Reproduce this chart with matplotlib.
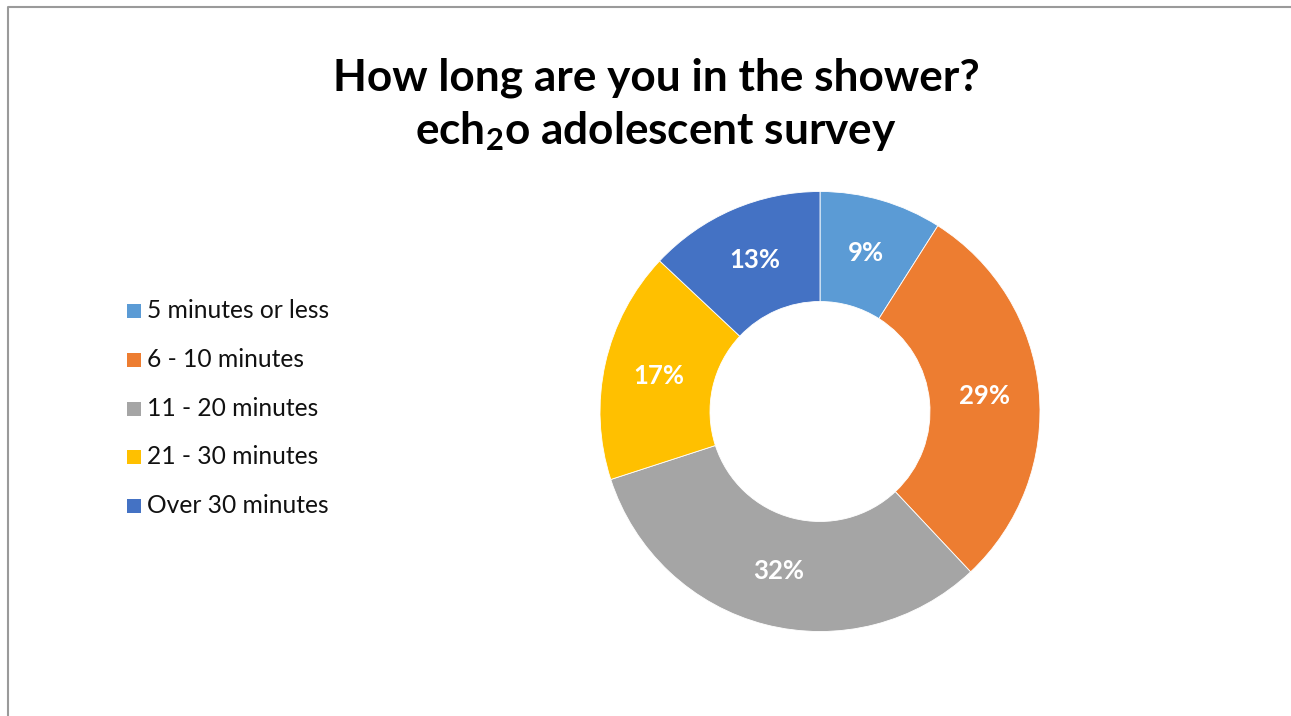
import matplotlib
matplotlib.use("Agg")
import matplotlib.pyplot as plt
from matplotlib.patches import Rectangle
from matplotlib.lines import Line2D

categories = ["5 minutes or less", "6 - 10 minutes", "11 - 20 minutes",
              "21 - 30 minutes", "Over 30 minutes"]
values = [9, 29, 32, 17, 13]
colors = ["#5B9BD5", "#ED7D31", "#A5A5A5", "#FFC000", "#4472C4"]
title_line1 = "How long are you in the shower?"
title_line2 = r"ech$_{\mathbf{2}}$o adolescent survey"

FONT = "Lato"
plt.rcParams['font.family'] = [FONT, 'DejaVu Sans']
plt.rcParams['mathtext.fontset'] = 'custom'
plt.rcParams['mathtext.rm'] = FONT + ':bold'
plt.rcParams['mathtext.bf'] = FONT + ':bold'
plt.rcParams['mathtext.it'] = FONT + ':bold'
plt.rcParams['mathtext.default'] = 'bf'

W, H = 1291, 716
fig = plt.figure(figsize=(W / 100, H / 100), dpi=100)
fig.patch.set_facecolor("white")

# donut axes: centre (820, 411.5) px, radius 220 px
cx, cy, r = 820, 411.5, 220
ax = fig.add_axes([(cx - r) / W, (H - cy - r) / H, 2 * r / W, 2 * r / H])
wedges, texts, autotexts = ax.pie(
    values, colors=colors, startangle=90, counterclock=False, radius=1,
    wedgeprops=dict(width=0.5, linewidth=0.6, edgecolor="white"),
    autopct=lambda p: f"{p:.0f}%", pctdistance=0.75,
    textprops=dict(color="white", fontsize=18.5, fontweight="bold"))
ax.set_xlim(-1, 1)
ax.set_ylim(-1, 1)
ax.set_aspect("equal")
ax.axis("off")

# title
tx = 656 / W
fig.text(tx, 1 - 90 / H, title_line1, ha="center", va="baseline",
         fontsize=31.8, fontweight="bold", color="black")
fig.text(tx, 1 - 144 / H, title_line2, ha="center", va="baseline",
         fontsize=31.8, fontweight="bold", color="black")

# legend (manual)
base0, step = 318, 48.75
for i, (lab, col) in enumerate(zip(categories, colors)):
    b = base0 + i * step
    fig.add_artist(Rectangle((126.5 / W, 1 - b / H), 14 / W, 14 / H,
                             transform=fig.transFigure, facecolor=col,
                             edgecolor="none"))
    fig.text(147 / W, 1 - b / H, lab, ha="left", va="baseline",
             fontsize=17.7, color="#111111")

# border (left and top)
fig.add_artist(Line2D([7.5 / W, 7.5 / W, 1.0], [0.0, 1 - 6.5 / H, 1 - 6.5 / H],
                      transform=fig.transFigure, color="#9a9a9a", lw=1.5))

fig.savefig("out.png", dpi=100, facecolor="white")
